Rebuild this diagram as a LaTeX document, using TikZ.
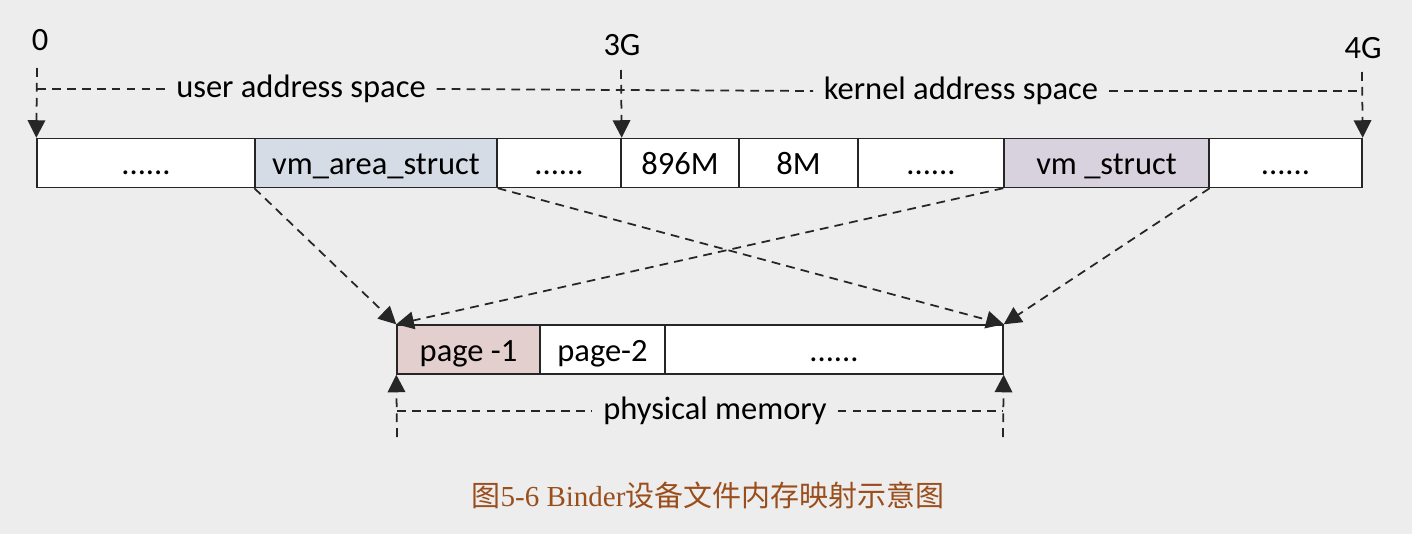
\documentclass[tikz,border=0pt]{standalone}
\usepackage{fontspec}
\setmainfont{Carlito}
\newfontfamily\cjk{Noto Sans CJK SC}
\newfontfamily\capfont{Liberation Serif}
\usepackage{tikz}
\usetikzlibrary{arrows.meta, positioning, calc}
\definecolor{bgGray}{HTML}{EDEDED}
\definecolor{vmaBlue}{HTML}{D5DCE6}
\definecolor{vmLilac}{HTML}{D8D2DE}
\definecolor{pageRose}{HTML}{E3CFCD}
\definecolor{capBrown}{HTML}{9A4E1C}

\begin{document}
\begin{tikzpicture}[x=0.02cm, y=-0.02cm,
  font=\fontsize{18.5}{22}\selectfont,
  cell/.style={draw=black!85, line width=0.8pt, inner sep=0pt, minimum height=0.98cm,
               text height=13.5pt, text depth=0pt},
  dim/.style={dash pattern=on 5pt off 3.5pt, line width=1pt, black!85},
  map/.style={dim, -{Triangle[length=10pt, width=10pt]}},
  lbl/.style={inner xsep=6pt, inner ysep=1pt}]
  \fill[bgGray] (0,0) rectangle (1412,534);
  \useasboundingbox (0,0) rectangle (1412,534);
  % virtual address space, 0 .. 4G
  \foreach \a/\b/\nm/\f/\txt in {37/255/v1/white/{......}, 255/497/vma/vmaBlue/{vm\_area\_struct},
      497/621/v3/white/{......}, 621/739/v4/white/{896M}, 739/858/v5/white/{8M},
      858/1004/v6/white/{......}, 1004/1209/vms/vmLilac/{vm \_struct}, 1209/1362/v8/white/{......}}{
    \pgfmathsetmacro\w{(\b-\a)*0.02}
    \node[cell, fill=\f, minimum width=\w cm] (\nm) at ({(\a+\b)/2},163) {\txt};}
  % physical memory
  \foreach \a/\b/\nm/\f/\txt in {397/540/pg1/pageRose/{page -1}, 540/665/pg2/white/{page-2},
      665/1003/pg3/white/{......}}{
    \pgfmathsetmacro\w{(\b-\a)*0.02}
    \node[cell, fill=\f, minimum width=\w cm] (\nm) at ({(\a+\b)/2},349.5) {\txt};}

  % address marks
  \node (z0) at (40,40) {0};
  \node (z3) at (622,45) {3G};
  \node (z4) at (1363,48) {4G};
  \coordinate (m0) at (37,68);
  \coordinate (m3) at (621,70);
  \coordinate (m4) at (1362,72);
  \draw[map] (m0) -- (v1.north west);
  \draw[map] (m3) -- (v3.north east);
  \draw[map] (m4) -- (v8.north east);
  \node[lbl] (user) at (301,89) {user address space};
  \node[lbl] (kern) at (961,91) {kernel address space};
  \draw[dim] (m0 |- user.west) -- (user.west);
  \draw[dim] (user.east) -- (kern.west);
  \draw[dim] (kern.east) -- (m4 |- kern.east);

  % mappings
  \draw[map] (vma.south west) -- (pg1.north west);
  \draw[map] (vma.south east) -- (pg3.north east);
  \draw[map] (vms.south west) -- (pg1.north west);
  \draw[map] (vms.south east) -- (pg3.north east);

  % physical range
  \coordinate (p0) at (397,437);
  \coordinate (p1) at (1003,437);
  \draw[map] (p0) -- (pg1.south west);
  \draw[map] (p1) -- (pg3.south east);
  \node[lbl] (phys) at (715,411) {physical memory};
  \draw[dim] (p0 |- phys.west) -- (phys.west);
  \draw[dim] (phys.east) -- (p1 |- phys.east);

  \node[text=capBrown, font=\fontsize{16.5}{20}\selectfont] (cap) at (708,495)
    {{\cjk 图}{\capfont 5-6 Binder}{\cjk 设备文件内存映射示意图}};
\end{tikzpicture}
\end{document}
